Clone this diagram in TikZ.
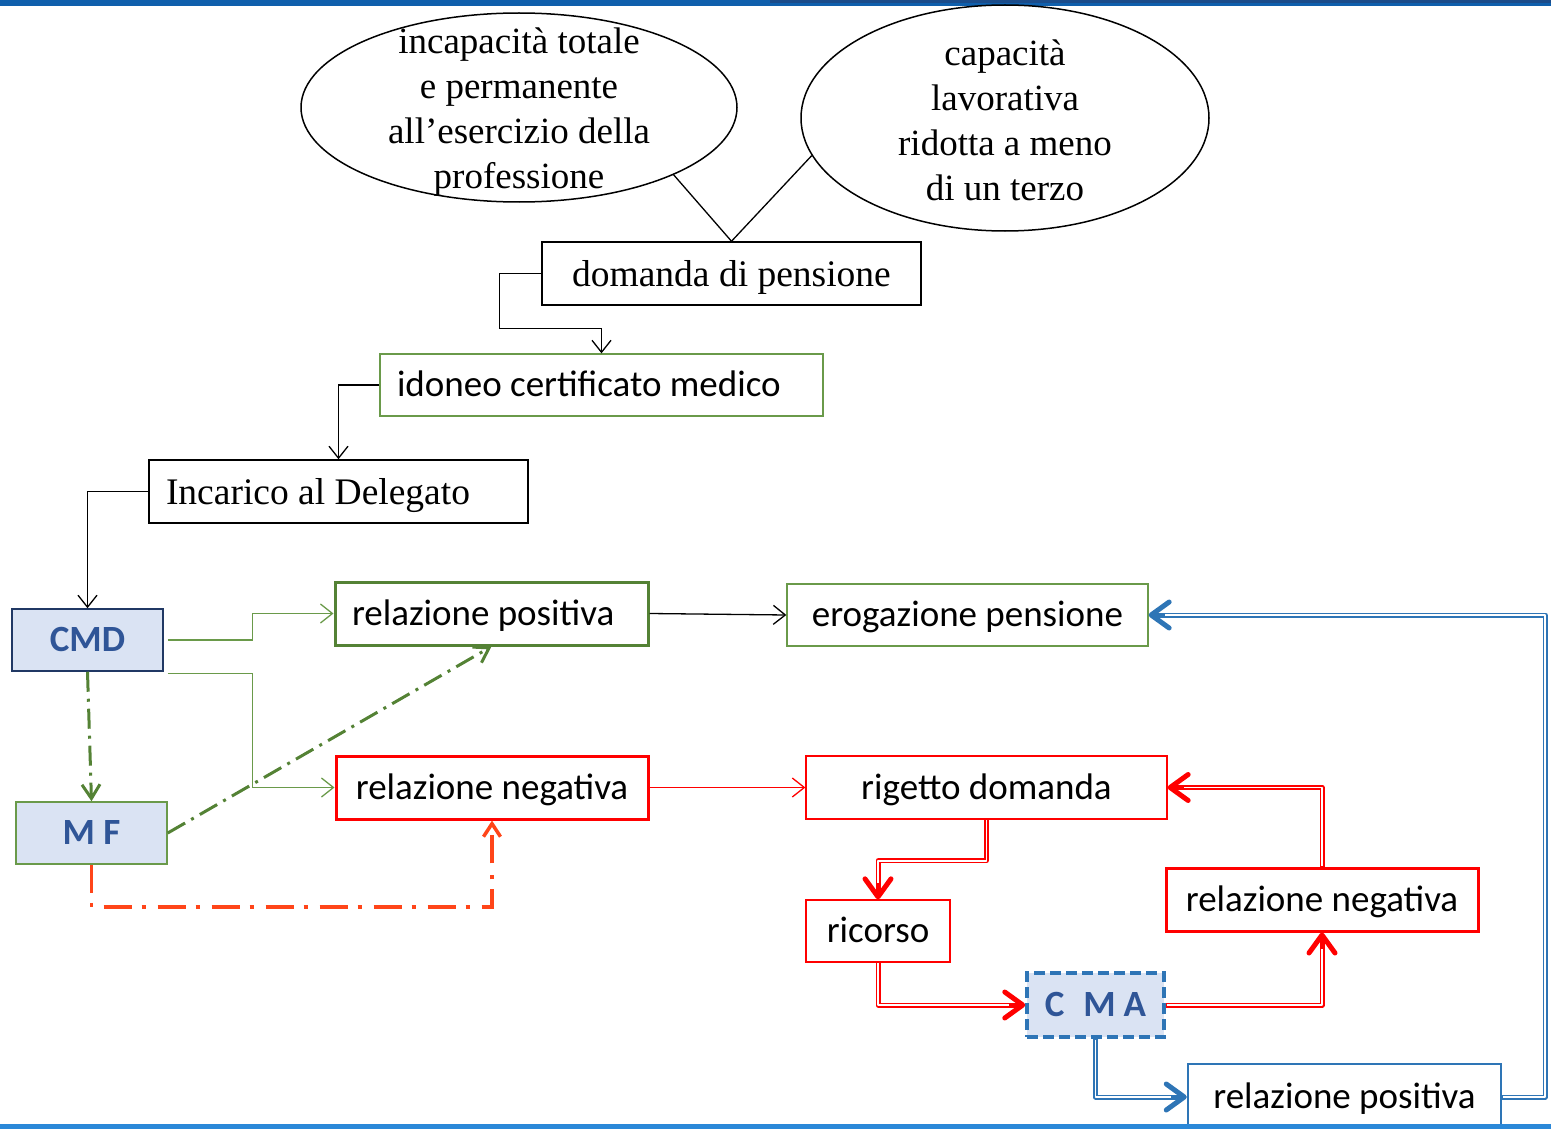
\documentclass[tikz,border=0pt]{standalone}
\usepackage{fontspec}
\setmainfont{Liberation Serif}
\newfontfamily\carl{Carlito}
\usetikzlibrary{arrows.meta,shapes.geometric,calc}
\definecolor{gthin}{HTML}{6A9A4A}
\definecolor{gthick}{HTML}{548235}
\definecolor{navy}{HTML}{203864}
\definecolor{lblue}{HTML}{DAE3F3}
\definecolor{tblue}{HTML}{2F5597}
\definecolor{mblue}{HTML}{2E75B6}
\definecolor{ored}{HTML}{FF4519}
\definecolor{topbar}{HTML}{0F5FAC}
\definecolor{topdark}{HTML}{1B4C8A}
\definecolor{botbar}{HTML}{2B88D8}
\newcommand\dblpath[2]{%
  \draw[#1, line width=5pt, line join=round, -{Straight Barb[length=18pt,width=26pt,line width=5pt,round]}] #2;
  \draw[white, line width=1.8pt, line join=round, shorten >=16pt, shorten <=0.8pt] #2;}
\begin{document}
\begin{tikzpicture}[x=1pt, y=-1pt, line width=1.3pt,
  serif/.style={font=\fontsize{37.5pt}{45pt}\selectfont, text height=27pt, text depth=2pt},
  sans/.style={font=\carl\fontsize{37pt}{45pt}\selectfont, text height=26.5pt, text depth=3.5pt},
  sansb/.style={font=\carl\bfseries\fontsize{37pt}{45pt}\selectfont, text height=26.5pt, text depth=3.5pt, text=tblue},
  etext/.style={font=\fontsize{37pt}{45pt}\selectfont, align=center, inner sep=0pt},
  bx/.style={rectangle, draw, inner sep=0pt},
  ell/.style={ellipse, draw, inner sep=0pt, line width=1.5pt},
  opentip/.style={-{Straight Barb[length=12pt,width=19pt]}},
  gdash/.style={gthick, line width=3pt, dash pattern=on 20pt off 7pt on 3pt off 7pt},
  odash/.style={ored, line width=3.5pt, dash pattern=on 28pt off 10pt on 4pt off 12pt},
]
\useasboundingbox (0,0) rectangle (1551,1129);
% top bar
\fill[topbar] (0,0) rectangle (1551,6);
\fill[topdark] (770,0) rectangle (1551,3);

% ellipses
\node[ell, minimum width=436pt, minimum height=189pt] (e1) at (519,107.5) {};
\node[etext] (t1) at (519,112) {incapacità totale\\e permanente\\all’esercizio della\\professione};
\node[ell, minimum width=408pt, minimum height=226pt] (e2) at (1005,118) {};
\node[etext] (t2) at (1005,120) {capacità\\lavorativa\\ridotta a meno\\di un terzo};

% boxes
\node[bx, serif, line width=1.5pt, minimum width=379pt, minimum height=63pt] (dom) at (731.5,273.5) {domanda di pensione};
\node[bx, sans, draw=gthin, minimum height=62pt, text width=409pt, inner xsep=17pt, align=flush left] (ido) at (601.5,385) {idoneo certificato medico};
\node[bx, serif, line width=1.5pt, minimum height=63pt, text width=345pt, inner xsep=17pt, align=flush left] (inc) at (338.5,491.5) {Incarico al Delegato};
\node[bx, sansb, draw=navy, fill=lblue, line width=1.5pt, minimum width=151pt, minimum height=62pt] (cmd) at (87.5,640) {CMD};
\node[bx, sansb, draw=gthin, fill=lblue, line width=1.5pt, minimum width=151pt, minimum height=62pt] (mf) at (91.5,833) {M F};
\node[bx, sans, draw=gthick, line width=3pt, minimum height=63pt, text width=279pt, inner xsep=17pt, align=flush left] (rp1) at (491.5,613.5) {relazione positiva};
\node[bx, sans, draw=red, line width=3pt, minimum width=312pt, minimum height=63pt] (rn1) at (492,787.5) {relazione negativa};
\node[bx, sans, draw=gthin, minimum width=361pt, minimum height=62pt] (ero) at (967.5,615) {erogazione pensione};
\node[bx, sans, draw=red, minimum width=361pt, minimum height=63pt] (rig) at (986.5,787.5) {rigetto domanda};
\node[bx, sans, draw=red, minimum width=144pt, minimum height=62pt] (ric) at (878,931) {ricorso};
\node[bx, sansb, draw=mblue, fill=lblue, line width=3.5pt, dash pattern=on 11pt off 5pt, minimum width=137pt, minimum height=64pt] (cma) at (1095.5,1005) {C\hspace{19pt}M\hspace{8pt}A};
\node[bx, sans, draw=red, line width=3pt, minimum width=312pt, minimum height=63pt] (rn2) at (1322,899.5) {relazione negativa};
\node[bx, sans, draw=mblue, line width=2.5pt, minimum width=313pt, minimum height=66pt] (rp2) at (1344.5,1097) {relazione positiva};

% connectors (black)
\draw (e1.south east) -- (dom.north);
\draw (e2.191) -- (dom.north);
\draw[opentip] (dom.west) -- ++(-42,0) |- ([yshift=25pt]ido.north) -- (ido.north);
\draw[opentip] (ido.west) -| (inc.north);
\draw[opentip] (inc.west) -| (cmd.north);
\draw[opentip] (rp1.east) -- (ero.west);

% green
\draw[gthin, opentip] ([xshift=4pt]cmd.east) -- ++(85,0) |- (rp1.west);
\draw[gthin, opentip] ([xshift=4pt,yshift=-2pt]cmd.south east) -- ++(85,0) |- (rn1.west);
\draw[gdash, -{Straight Barb[length=14pt,width=18pt]}] (cmd.south) -- (mf.north);
\draw[gdash, -{Straight Barb[length=14pt,width=18pt]}] (mf.east) -- (rp1.south);
% orange-red
\draw[odash, -{Straight Barb[length=13pt,width=17pt]}] (mf.south) -- ++(0,42) -| (rn1.south);
% red
\draw[red, opentip] (rn1.east) -- (rig.west);
\dblpath{red}{(rig.south) -- ++(0,41) -| (ric.north)}
\dblpath{red}{(ric.south) |- (cma.west)}
\dblpath{red}{(cma.east) -| (rn2.south)}
\dblpath{red}{(rn2.north) |- (rig.east)}
% blue
\dblpath{mblue}{(cma.south) |- (rp2.west)}
\dblpath{mblue}{(rp2.east) -- ++(43,0) |- (ero.east)}

% bottom bar
\fill[botbar] (0,1124) rectangle (1551,1129);
\end{tikzpicture}
\end{document}
